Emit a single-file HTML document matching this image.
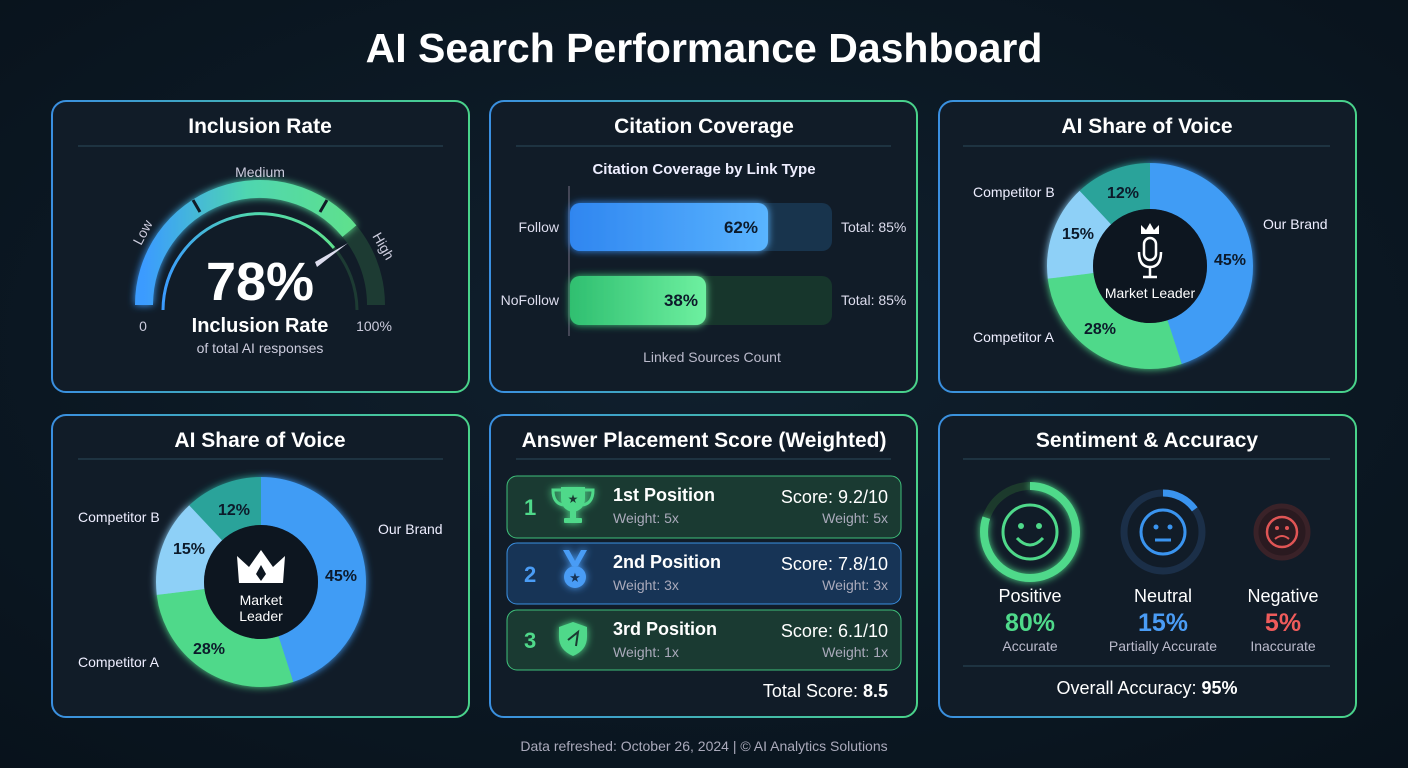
<!DOCTYPE html>
<html><head><meta charset="utf-8"><style>
html,body{margin:0;padding:0;background:#0b1520;}
svg{display:block;font-family:"Liberation Sans",sans-serif;}
</style></head><body>
<svg width="1408" height="768" viewBox="0 0 1408 768" xmlns="http://www.w3.org/2000/svg">
<defs>
<radialGradient id="bg" cx="50%" cy="45%" r="75%"><stop offset="0" stop-color="#10202e"/><stop offset="1" stop-color="#08121b"/></radialGradient>
<linearGradient id="bd" x1="0" y1="0" x2="1" y2="0"><stop offset="0" stop-color="#3a8fe0"/><stop offset="1" stop-color="#49d38a"/></linearGradient>
<linearGradient id="gg" x1="0" y1="0" x2="1" y2="0"><stop offset="0" stop-color="#3b9bff"/><stop offset="0.5" stop-color="#4fd6b0"/><stop offset="1" stop-color="#5ee08e"/></linearGradient>
<linearGradient id="fb" x1="0" y1="0" x2="1" y2="0"><stop offset="0" stop-color="#2f86f0"/><stop offset="1" stop-color="#5ab4ff"/></linearGradient>
<linearGradient id="nb" x1="0" y1="0" x2="1" y2="0"><stop offset="0" stop-color="#2fbf70"/><stop offset="1" stop-color="#6ef0a0"/></linearGradient>
<filter id="gl" x="-30%" y="-30%" width="160%" height="160%"><feGaussianBlur stdDeviation="4" result="b"/><feMerge><feMergeNode in="b"/><feMergeNode in="SourceGraphic"/></feMerge></filter>
</defs>
<rect width="1408" height="768" fill="url(#bg)"/>
<text x="704" y="62" text-anchor="middle" font-size="41" font-weight="bold" fill="#fff">AI Search Performance Dashboard</text>

<g fill="#111c28" stroke="url(#bd)" stroke-width="2">
<rect x="52" y="101" width="417" height="291" rx="14"/>
<rect x="490" y="101" width="427" height="291" rx="14"/>
<rect x="939" y="101" width="417" height="291" rx="14"/>
<rect x="52" y="415" width="417" height="302" rx="14"/>
<rect x="490" y="415" width="427" height="302" rx="14"/>
<rect x="939" y="415" width="417" height="302" rx="14"/>
</g>
<g stroke="#2a4a5a" stroke-width="1">
<line x1="78" y1="146" x2="443" y2="146"/><line x1="516" y1="146" x2="891" y2="146"/><line x1="963" y1="146" x2="1330" y2="146"/>
<line x1="78" y1="459" x2="443" y2="459"/><line x1="516" y1="459" x2="891" y2="459"/><line x1="963" y1="459" x2="1330" y2="459"/>
</g>
<g font-size="21" font-weight="bold" fill="#fff" text-anchor="middle">
<text x="260" y="133">Inclusion Rate</text><text x="704" y="133">Citation Coverage</text><text x="1147" y="133">AI Share of Voice</text>
<text x="260" y="447">AI Share of Voice</text><text x="704" y="447">Answer Placement Score (Weighted)</text><text x="1147" y="447">Sentiment &amp; Accuracy</text>
</g>

<!-- gauge -->
<path d="M144,305 A116,116 0 0 1 376,305" fill="none" stroke="#1d3b33" stroke-width="18"/>
<path d="M144,305 A116,116 0 0 1 349.4,231.1" fill="none" stroke="url(#gg)" stroke-width="18" filter="url(#gl)"/>
<line x1="193" y1="200" x2="200" y2="212" stroke="#111c28" stroke-width="3"/>
<line x1="327" y1="200" x2="320" y2="212" stroke="#111c28" stroke-width="3"/>
<path d="M163,310 A97,97 0 0 1 334,248" fill="none" stroke="url(#gg)" stroke-width="3"/>
<path d="M334,248 A97,97 0 0 1 357,310" fill="none" stroke="#1d3b33" stroke-width="3"/>
<polygon points="348,243 315,262 317,267" fill="#dde"/>
<text x="260" y="177" text-anchor="middle" font-size="14" fill="#ccd">Medium</text>
<text transform="translate(141,246) rotate(-62)" font-size="14" fill="#ccd">Low</text>
<text transform="translate(372,236) rotate(60)" font-size="14" fill="#ccd">High</text>
<text x="143" y="331" text-anchor="middle" font-size="14" fill="#ccd">0</text>
<text x="374" y="331" text-anchor="middle" font-size="14" fill="#ccd">100%</text>
<text x="260" y="300" text-anchor="middle" font-size="54" font-weight="bold" fill="#fff">78%</text>
<text x="260" y="332" text-anchor="middle" font-size="20" font-weight="bold" fill="#fff">Inclusion Rate</text>
<text x="260" y="353" text-anchor="middle" font-size="14" fill="#ccd">of total AI responses</text>

<!-- citation -->
<text x="704" y="174" text-anchor="middle" font-size="15" font-weight="bold" fill="#eef">Citation Coverage by Link Type</text>
<line x1="569" y1="186" x2="569" y2="336" stroke="#556" stroke-width="1.5"/>
<rect x="570" y="203" width="262" height="48" rx="10" fill="#18344d"/>
<rect x="570" y="203" width="198" height="48" rx="10" fill="url(#fb)" filter="url(#gl)"/>
<rect x="570" y="276" width="262" height="49" rx="10" fill="#17362c"/>
<rect x="570" y="276" width="136" height="49" rx="10" fill="url(#nb)" filter="url(#gl)"/>
<g font-size="14" fill="#dde">
<text x="559" y="232" text-anchor="end">Follow</text><text x="559" y="305" text-anchor="end">NoFollow</text>
<text x="841" y="232">Total: 85%</text><text x="841" y="305">Total: 85%</text>
<text x="712" y="362" text-anchor="middle" fill="#bbc">Linked Sources Count</text>
</g>
<text x="758" y="233" text-anchor="end" font-size="17" font-weight="bold" fill="#0c1a2a">62%</text>
<text x="698" y="306" text-anchor="end" font-size="17" font-weight="bold" fill="#0c1a2a">38%</text>

<!-- donut 1 -->
<g transform="translate(1150,266) rotate(-90)" fill="none" stroke-width="46" filter="url(#gl)">
<circle r="80" stroke="#3f9cf5" stroke-dasharray="226.19 502.65"/>
<circle r="80" stroke="#4fd98a" stroke-dasharray="140.74 502.65" stroke-dashoffset="-226.19"/>
<circle r="80" stroke="#8ed0f7" stroke-dasharray="75.4 502.65" stroke-dashoffset="-366.93"/>
<circle r="80" stroke="#2aa39a" stroke-dasharray="60.32 502.65" stroke-dashoffset="-442.33"/>
</g>
<circle cx="1150" cy="266" r="57" fill="#0d1620"/>
<g fill="none" stroke="#fff" stroke-width="2.5">
<rect x="1144" y="238" width="12" height="22" rx="6"/>
<path d="M1139,252 Q1139,267 1150,267 Q1161,267 1161,252"/>
<line x1="1150" y1="267" x2="1150" y2="276"/><line x1="1143" y1="277" x2="1157" y2="277"/>
</g>
<path d="M1141,234 L1141,225 L1146,230 L1150,223 L1154,230 L1159,225 L1159,234 Z" fill="#fff"/>
<text x="1150" y="298" text-anchor="middle" font-size="14" fill="#fff">Market Leader</text>
<g font-size="16" font-weight="bold" fill="#0c1a2a" text-anchor="middle">
<text x="1230" y="265">45%</text><text x="1100" y="334">28%</text><text x="1078" y="239">15%</text><text x="1123" y="198">12%</text></g>
<g font-size="14" fill="#eef"><text x="973" y="197">Competitor B</text><text x="1263" y="229">Our Brand</text><text x="973" y="342">Competitor A</text></g>

<!-- donut 2 -->
<g transform="translate(261,582) rotate(-90)" fill="none" stroke-width="48" filter="url(#gl)">
<circle r="81" stroke="#3f9cf5" stroke-dasharray="229.02 508.94"/>
<circle r="81" stroke="#4fd98a" stroke-dasharray="142.5 508.94" stroke-dashoffset="-229.02"/>
<circle r="81" stroke="#8ed0f7" stroke-dasharray="76.34 508.94" stroke-dashoffset="-371.52"/>
<circle r="81" stroke="#2aa39a" stroke-dasharray="61.07 508.94" stroke-dashoffset="-447.86"/>
</g>
<circle cx="261" cy="582" r="57" fill="#0d1620"/>
<path d="M239,583 L237,556 L249,567 L261,550 L273,567 L285,556 L283,583 Z" fill="#fff"/>
<path d="M261,565 L266,574 L261,581 L256,574 Z" fill="#0d1620"/>
<text x="261" y="605" text-anchor="middle" font-size="14" fill="#fff">Market</text>
<text x="261" y="621" text-anchor="middle" font-size="14" fill="#fff">Leader</text>
<g font-size="16" font-weight="bold" fill="#0c1a2a" text-anchor="middle">
<text x="341" y="581">45%</text><text x="209" y="654">28%</text><text x="189" y="554">15%</text><text x="234" y="515">12%</text></g>
<g font-size="14" fill="#eef"><text x="78" y="522">Competitor B</text><text x="378" y="534">Our Brand</text><text x="78" y="667">Competitor A</text></g>

<!-- placement -->
<rect x="507" y="476" width="394" height="62" rx="10" fill="#1a3a32" stroke="#3fbf7a" stroke-width="1"/>
<rect x="507" y="543" width="394" height="61" rx="10" fill="#173456" stroke="#3a8fe0" stroke-width="1"/>
<rect x="507" y="610" width="394" height="60" rx="10" fill="#1a3a32" stroke="#3fbf7a" stroke-width="1"/>
<g font-size="22" font-weight="bold"><text x="524" y="515" fill="#4fd98a">1</text><text x="524" y="582" fill="#4a9cf5">2</text><text x="524" y="648" fill="#4fd98a">3</text></g>
<!-- trophy -->
<g fill="#4fd98a" filter="url(#gl)">
<path d="M561,487 L585,487 L585,498 Q585,510 573,512 Q561,510 561,498 Z"/>
<path d="M561,490 L553,490 Q553,503 563,505" fill="none" stroke="#4fd98a" stroke-width="3"/>
<path d="M585,490 L593,490 Q593,503 583,505" fill="none" stroke="#4fd98a" stroke-width="3"/>
<rect x="570" y="511" width="6" height="8"/><rect x="564" y="518" width="18" height="5" rx="1"/>
</g>
<text x="573" y="503" text-anchor="middle" font-size="12" fill="#1a3a32">★</text>
<!-- medal -->
<g fill="#4a9cf5" filter="url(#gl)">
<path d="M563,550 L569,550 L575,561 L581,550 L587,550 L578,566 L572,566 Z"/>
<circle cx="575" cy="577" r="11"/>
</g>
<text x="575" y="582" text-anchor="middle" font-size="13" fill="#173456">★</text>
<!-- shield -->
<path d="M573,622 L587,627 L587,637 Q587,650 573,656 Q559,650 559,637 L559,627 Z" fill="#4fd98a" filter="url(#gl)"/>
<path d="M568,640 L578,632 L576,646" fill="none" stroke="#1a3a32" stroke-width="2"/>
<g font-size="18" font-weight="bold" fill="#fff"><text x="613" y="501">1st Position</text><text x="613" y="568">2nd Position</text><text x="613" y="635">3rd Position</text></g>
<g font-size="14" fill="#aab"><text x="613" y="523">Weight: 5x</text><text x="613" y="590">Weight: 3x</text><text x="613" y="657">Weight: 1x</text>
<text x="888" y="523" text-anchor="end">Weight: 5x</text><text x="888" y="590" text-anchor="end">Weight: 3x</text><text x="888" y="657" text-anchor="end">Weight: 1x</text></g>
<g font-size="18" fill="#fff" text-anchor="end"><text x="888" y="503">Score: 9.2/10</text><text x="888" y="570">Score: 7.8/10</text><text x="888" y="637">Score: 6.1/10</text>
<text x="888" y="697">Total Score: <tspan font-weight="bold">8.5</tspan></text></g>

<!-- sentiment -->
<circle cx="1030" cy="532" r="46" fill="none" stroke="#1c3a2c" stroke-width="8"/>
<circle cx="1030" cy="532" r="46" fill="none" stroke="#4fd98a" stroke-width="8" stroke-dasharray="231 289" transform="rotate(-90 1030 532)" filter="url(#gl)"/>
<circle cx="1030" cy="532" r="27" fill="none" stroke="#4fd98a" stroke-width="3"/>
<circle cx="1021" cy="526" r="3" fill="#4fd98a"/><circle cx="1039" cy="526" r="3" fill="#4fd98a"/>
<path d="M1017,538 Q1030,552 1043,538" fill="none" stroke="#4fd98a" stroke-width="3"/>
<circle cx="1163" cy="532" r="39" fill="none" stroke="#1b2f48" stroke-width="7"/>
<circle cx="1163" cy="532" r="39" fill="none" stroke="#3a94ef" stroke-width="7" stroke-dasharray="37 245" transform="rotate(-90 1163 532)"/>
<circle cx="1163" cy="532" r="22" fill="none" stroke="#3a94ef" stroke-width="3"/>
<circle cx="1156" cy="527" r="2.5" fill="#3a94ef"/><circle cx="1170" cy="527" r="2.5" fill="#3a94ef"/>
<line x1="1155" y1="540" x2="1171" y2="540" stroke="#3a94ef" stroke-width="3"/>
<circle cx="1282" cy="532" r="26" fill="#2a1a20" stroke="#3a2228" stroke-width="5"/>
<circle cx="1282" cy="532" r="15" fill="none" stroke="#e05555" stroke-width="2.5"/>
<circle cx="1277" cy="528" r="2" fill="#e05555"/><circle cx="1287" cy="528" r="2" fill="#e05555"/>
<path d="M1275,539 Q1282,533 1289,539" fill="none" stroke="#e05555" stroke-width="2"/>
<g text-anchor="middle">
<g font-size="18" fill="#fff"><text x="1030" y="602">Positive</text><text x="1163" y="602">Neutral</text><text x="1283" y="602">Negative</text></g>
<g font-size="25" font-weight="bold"><text x="1030" y="631" fill="#4fd98a">80%</text><text x="1163" y="631" fill="#4a9cf5">15%</text><text x="1283" y="631" fill="#ef5b5b">5%</text></g>
<g font-size="14" fill="#bbc"><text x="1030" y="651">Accurate</text><text x="1163" y="651">Partially Accurate</text><text x="1283" y="651">Inaccurate</text></g>
<text x="1147" y="694" font-size="18" fill="#fff">Overall Accuracy: <tspan font-weight="bold">95%</tspan></text>
</g>
<line x1="963" y1="666" x2="1330" y2="666" stroke="#2a4a5a"/>

<text x="704" y="751" text-anchor="middle" font-size="14" fill="#aab">Data refreshed: October 26, 2024 | © AI Analytics Solutions</text>
</svg>
</body></html>
